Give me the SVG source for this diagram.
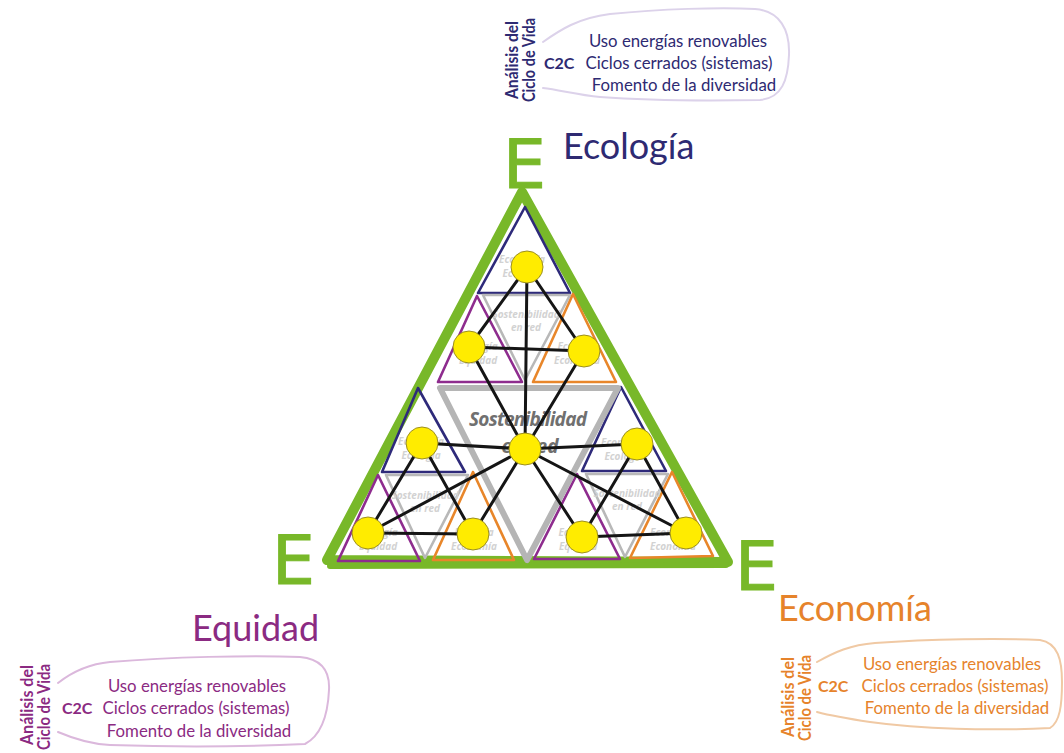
<svg xmlns="http://www.w3.org/2000/svg" width="1064" height="753" viewBox="0 0 1064 753">
  <style>
    .lbl { font-family: Lato, "Open Sans", sans-serif; }
    .big { font-size: 36px; }
    .line { font-size: 16.8px; text-anchor: middle; }
    .c2c { font-size: 16px; font-weight: bold; }
    .vert { font-size: 16.5px; font-weight: bold; text-anchor: middle; }
    .bub { fill: none; stroke-width: 2; stroke-linecap: round; }
    .ee { font-family: "DejaVu Sans", sans-serif; font-size: 68px; fill: #78b829; stroke: #78b829; stroke-width: 1; }
    .tri { fill: none; stroke-width: 2.6; stroke-linejoin: round; }
    .navy { stroke: #2e2a7a; }
    .purp { stroke: #8e2c8e; }
    .oran { stroke: #e8862a; }
    .gray { stroke: #b8b8b8; }
    .faint { font-family: "Open Sans", sans-serif; font-style: italic; font-weight: bold; font-size: 10px; fill: #d2d2d2; text-anchor: middle; }
    .edge { stroke: #151515; stroke-width: 3; stroke-linecap: round; }
    .dot { fill: #ffec00; stroke: #9c8f22; stroke-width: 1; }
  </style>

  <!-- outer green frame -->
  <g id="frame">
    <path d="M522,192 L327,560 L728,562 Z" fill="none" stroke="#78b829" stroke-width="10" stroke-linejoin="round"/>
    <path d="M330,566 L726,565" stroke="#78b829" stroke-width="6" stroke-linecap="round"/>
  </g>

  <!-- corner letters -->
  <g id="corner-top"><text class="ee" x="503" y="188">E</text></g>
  <g id="corner-left"><text class="ee" x="272" y="584">E</text></g>
  <g id="corner-right"><text class="ee" x="735" y="590">E</text></g>

  <!-- nested triangles -->
  <g id="cluster-top">
    <polygon class="tri navy" points="525,207 478,293 570,293"/>
    <polygon class="tri gray" points="483,295 570,295 525,380"/>
    <polygon class="tri purp" points="477,296 438,382 522,382"/>
    <polygon class="tri oran" points="573,294 533,382 616,382"/>
    <text class="faint" x="522" y="263">Economía</text>
    <text class="faint" x="522" y="277">Ecología</text>
    <text class="faint" x="526" y="318">Sostenibilidad</text>
    <text class="faint" x="526" y="331">en red</text>
    <text class="faint" x="478" y="350">Ecología</text>
    <text class="faint" x="478" y="364">Equidad</text>
    <text class="faint" x="577" y="350">Ecología</text>
    <text class="faint" x="577" y="364">Economía</text>
  </g>

  <g id="cluster-left">
    <polygon class="tri navy" points="418,388 382,472 465,472"/>
    <polygon class="tri gray" points="386,475 468,475 425,558"/>
    <polygon class="tri purp" points="378,475 338,561 420,561"/>
    <polygon class="tri oran" points="473,472 433,560 514,560"/>
    <text class="faint" x="421" y="445">Economía</text>
    <text class="faint" x="421" y="459">Ecología</text>
    <text class="faint" x="425" y="499">Sostenibilidad</text>
    <text class="faint" x="425" y="512">en red</text>
    <text class="faint" x="378" y="536">Ecología</text>
    <text class="faint" x="378" y="550">Equidad</text>
    <text class="faint" x="474" y="536">Ecología</text>
    <text class="faint" x="474" y="550">Economía</text>
  </g>

  <g id="cluster-right">
    <polygon class="tri navy" points="621,387 582,471 666,471"/>
    <polygon class="tri gray" points="586,474 668,474 625,557"/>
    <polygon class="tri purp" points="577,474 534,559 620,559"/>
    <polygon class="tri oran" points="672,472 630,558 713,556"/>
    <text class="faint" x="624" y="446">Economía</text>
    <text class="faint" x="624" y="460">Ecología</text>
    <text class="faint" x="627" y="497">Sostenibilidad</text>
    <text class="faint" x="627" y="510">en red</text>
    <text class="faint" x="578" y="536">Ecología</text>
    <text class="faint" x="578" y="550">Equidad</text>
    <text class="faint" x="673" y="536">Economía</text>
    <text class="faint" x="673" y="550">Economía</text>
  </g>

  <g id="center-core">
    <polygon points="440,388 618,388 527,560" fill="none" stroke="#b5b5b5" stroke-width="6" stroke-linejoin="round"/>
    <text x="528" y="426" font-family="'Open Sans', sans-serif" font-style="italic" font-weight="bold" font-size="19" fill="#707070" text-anchor="middle" textLength="118">Sostenibilidad</text>
    <text x="530" y="453" font-family="'Open Sans', sans-serif" font-style="italic" font-weight="bold" font-size="19" fill="#707070" text-anchor="middle">en red</text>
  </g>

  <!-- network links -->
  <g id="connectors">
    <line class="edge" x1="527" y1="267" x2="469" y2="347"/>
    <line class="edge" x1="527" y1="267" x2="584" y2="351"/>
    <line class="edge" x1="527" y1="267" x2="525" y2="449"/>
    <line class="edge" x1="469" y1="347" x2="584" y2="351"/>
    <line class="edge" x1="469" y1="347" x2="525" y2="449"/>
    <line class="edge" x1="584" y1="351" x2="525" y2="449"/>
    <line class="edge" x1="422" y1="443" x2="525" y2="449"/>
    <line class="edge" x1="637" y1="444" x2="525" y2="449"/>
    <line class="edge" x1="368" y1="533" x2="525" y2="449"/>
    <line class="edge" x1="473" y1="534" x2="525" y2="449"/>
    <line class="edge" x1="582" y1="537" x2="525" y2="449"/>
    <line class="edge" x1="686" y1="533" x2="525" y2="449"/>
    <line class="edge" x1="422" y1="443" x2="368" y2="533"/>
    <line class="edge" x1="422" y1="443" x2="473" y2="534"/>
    <line class="edge" x1="368" y1="533" x2="473" y2="534"/>
    <line class="edge" x1="637" y1="444" x2="582" y2="537"/>
    <line class="edge" x1="637" y1="444" x2="686" y2="533"/>
    <line class="edge" x1="582" y1="537" x2="686" y2="533"/>
  </g>

  <!-- network nodes -->
  <g id="node-top"><circle class="dot" cx="527" cy="267" r="16"/></g>
  <g id="node-top-left"><circle class="dot" cx="469" cy="347" r="16"/></g>
  <g id="node-top-right"><circle class="dot" cx="584" cy="351" r="16"/></g>
  <g id="node-center"><circle class="dot" cx="525" cy="449" r="16"/></g>
  <g id="node-mid-left"><circle class="dot" cx="422" cy="443" r="16"/></g>
  <g id="node-mid-right"><circle class="dot" cx="637" cy="444" r="16"/></g>
  <g id="node-low-left-a"><circle class="dot" cx="368" cy="533" r="16"/></g>
  <g id="node-low-left-b"><circle class="dot" cx="473" cy="534" r="16"/></g>
  <g id="node-low-right-a"><circle class="dot" cx="582" cy="537" r="16"/></g>
  <g id="node-low-right-b"><circle class="dot" cx="686" cy="533" r="16"/></g>

  <!-- Ecología -->
  <g id="ecologia" class="lbl" fill="#2e2a72">
    <text class="big" x="563" y="159">Ecología</text>
    <path class="bub" stroke="#dcd2ea" d="M543,42 C560,30 578,18 610,14 C660,9 720,7 755,9 C780,11 790,30 789,55 C788,80 782,98 760,100 C700,101 640,100 600,97 C578,95 560,90 543,88"/>
    <text class="vert" transform="translate(518,60) rotate(-90)" textLength="78" lengthAdjust="spacingAndGlyphs">Análisis del</text>
    <text class="vert" transform="translate(535,60) rotate(-90)" textLength="84" lengthAdjust="spacingAndGlyphs">Ciclo de Vida</text>
    <text class="c2c" x="544" y="69">C2C</text>
    <text class="line" x="678" y="47">Uso energías renovables</text>
    <text class="line" x="679" y="69">Ciclos cerrados (sistemas)</text>
    <text class="line" x="684" y="91">Fomento de la diversidad</text>
  </g>

  <!-- Equidad -->
  <g id="equidad" class="lbl" fill="#8b2a82">
    <text class="big" x="192" y="641">Equidad</text>
    <path class="bub" stroke="#dbb8dc" d="M58,683 C72,672 88,664 110,662 C170,657 250,655 300,657 C322,659 330,672 329,690 C328,712 322,735 305,744 C240,747 170,747 110,745 C88,744 72,738 58,732"/>
    <text class="vert" transform="translate(33,705) rotate(-90)" textLength="80" lengthAdjust="spacingAndGlyphs">Análisis del</text>
    <text class="vert" transform="translate(50,707) rotate(-90)" textLength="86" lengthAdjust="spacingAndGlyphs">Ciclo de Vida</text>
    <text class="c2c" x="62" y="714">C2C</text>
    <text class="line" x="197" y="692">Uso energías renovables</text>
    <text class="line" x="196" y="714">Ciclos cerrados (sistemas)</text>
    <text class="line" x="199" y="737">Fomento de la diversidad</text>
  </g>

  <!-- Economía -->
  <g id="economia" class="lbl" fill="#e6832b">
    <text class="big" x="778" y="621">Economía</text>
    <path class="bub" stroke="#f0c9a4" d="M817,662 C835,652 850,645 875,643 C930,639 1000,638 1040,640 C1058,643 1062,660 1062,682 C1062,705 1060,722 1050,728 C990,731 920,729 870,722 C850,719 832,716 817,712"/>
    <text class="vert" transform="translate(794,697) rotate(-90)" textLength="80" lengthAdjust="spacingAndGlyphs">Análisis del</text>
    <text class="vert" transform="translate(811,698) rotate(-90)" textLength="86" lengthAdjust="spacingAndGlyphs">Ciclo de Vida</text>
    <text class="c2c" x="818" y="692">C2C</text>
    <text class="line" x="952" y="670">Uso energías renovables</text>
    <text class="line" x="955" y="692">Ciclos cerrados (sistemas)</text>
    <text class="line" x="957" y="714">Fomento de la diversidad</text>
  </g>
</svg>
